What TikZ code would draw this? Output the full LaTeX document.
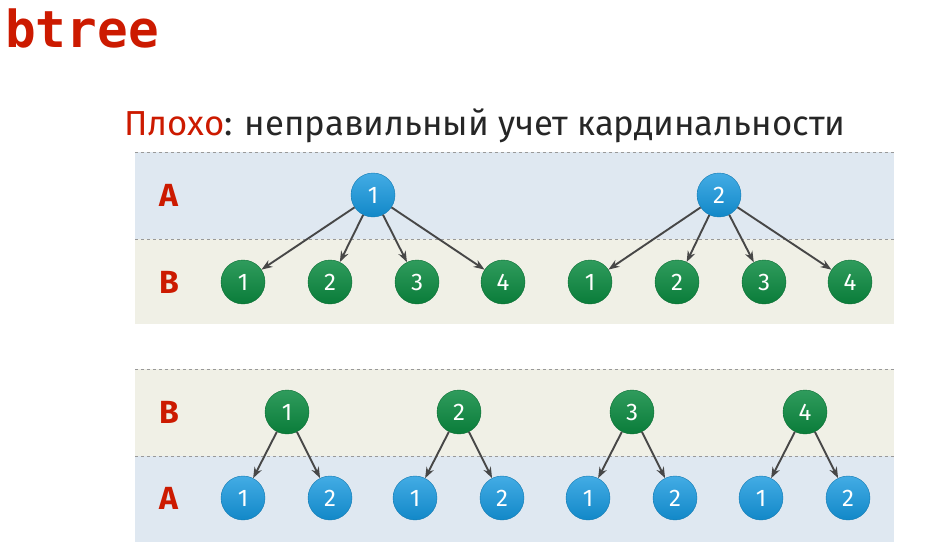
\documentclass[tikz,border=0pt]{standalone}
\usepackage{fontspec}
\setmainfont{Fira Sans}
\newfontfamily\titlefont{DejaVu Sans Mono}
\usetikzlibrary{arrows.meta,positioning}

\definecolor{hdred}{HTML}{CC1A00}
\definecolor{nodeblue}{HTML}{1497DE}
\definecolor{nodegreen}{HTML}{0B8A40}
\definecolor{bandA}{HTML}{DFE8F1}
\definecolor{bandB}{HTML}{F0F0E6}

\begin{document}
\begin{tikzpicture}[
  x=1pt, y=-1pt,
  anode/.style={circle, minimum size=44pt, inner sep=0pt,
    top color=nodeblue!80!white, bottom color=nodeblue!90!black,
    draw=nodeblue!80!black, text=white, font=\fontsize{24}{24}\selectfont},
  bnode/.style={circle, minimum size=44pt, inner sep=0pt,
    top color=nodegreen!85!white, bottom color=nodegreen!90!black,
    draw=nodegreen!80!black, text=white, font=\fontsize{24}{24}\selectfont},
  lbl/.style={text=hdred, font=\fontsize{32}{32}\selectfont\bfseries},
  sep/.style={draw=black!40, dashed, line width=0.8pt},
  arr/.style={-{Stealth[length=11pt, width=8pt]}, line width=1.9pt, draw=black!72}
]
  \useasboundingbox (0,0) rectangle (949,551);

  % title
  \node[anchor=base west, inner sep=0pt, text=hdred,
    font=\titlefont\fontsize{51}{51}\selectfont\bfseries] (title) at (5,48) {btree};
  \node[anchor=base west, inner sep=0pt, text=black!85,
    font=\fontsize{34.7}{34.7}\selectfont] (sub) at (124,135)
    {\textcolor{hdred}{Плохо}: неправильный учет кардинальности};

  % bands
  \fill[bandA] (135,152) rectangle (894,239);
  \fill[bandB] (135,239) rectangle (894,324);
  \fill[bandB] (135,369) rectangle (894,456);
  \fill[bandA] (135,456) rectangle (894,542);
  \draw[sep] (135,152) -- (894,152);
  \draw[sep] (135,239) -- (894,239);
  \draw[sep] (135,369) -- (894,369);
  \draw[sep] (135,456) -- (894,456);

  \node[lbl] (la1) at (169,195) {A};
  \node[lbl] (lb1) at (169,282) {B};
  \node[lbl] (lb2) at (169,412) {B};
  \node[lbl] (la2) at (169,498) {A};

  % top: A -> B
  \node[anode] (ta1) at (373,195) {1};
  \node[anode] (ta2) at (719,195) {2};
  \foreach \i/\x in {1/243,2/330,3/417,4/503} {
    \node[bnode] (tb1\i) at (\x,282) {\i};
    \draw[arr] (ta1) -- (tb1\i);
  }
  \foreach \i/\x in {1/590,2/677,3/764,4/850} {
    \node[bnode] (tb2\i) at (\x,282) {\i};
    \draw[arr] (ta2) -- (tb2\i);
  }

  % bottom: B -> A
  \foreach \i/\x in {1/287,2/459,3/632,4/805} {
    \node[bnode] (bb\i) at (\x,412) {\i};
    \node[anode] (ba\i1) at (\x-44,498) {1};
    \node[anode] (ba\i2) at (\x+43,498) {2};
    \draw[arr] (bb\i) -- (ba\i1);
    \draw[arr] (bb\i) -- (ba\i2);
  }
\end{tikzpicture}
\end{document}
